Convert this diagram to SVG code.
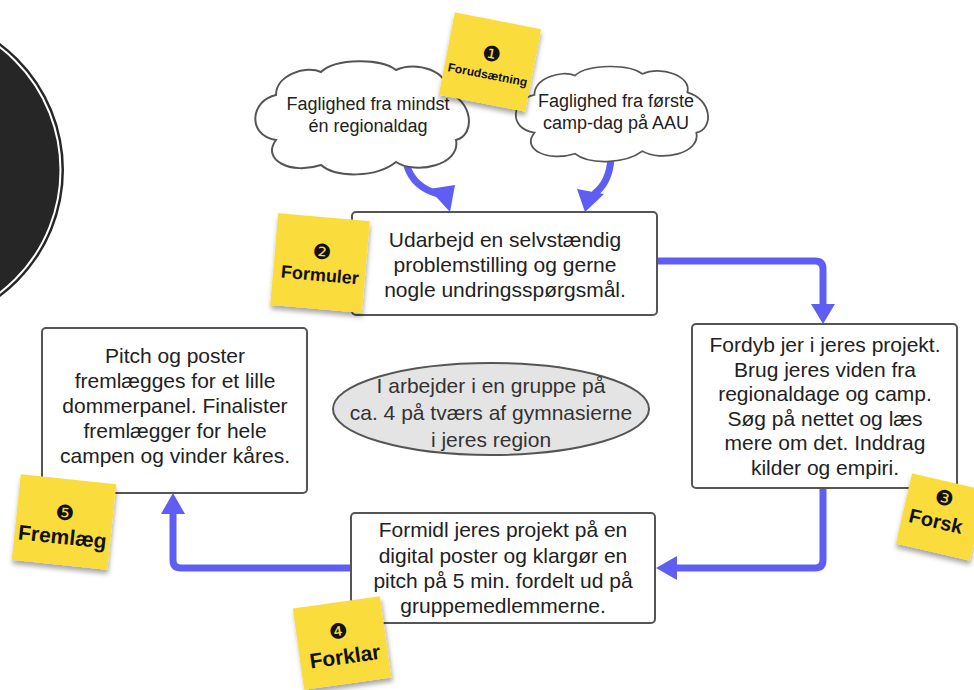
<svg xmlns="http://www.w3.org/2000/svg" width="974" height="690" viewBox="0 0 974 690">
<style>
.box{fill:#fff;stroke:#555;stroke-width:2}
.t{font-family:"Liberation Sans",Arial,sans-serif;font-size:21px;fill:#222;text-anchor:middle}
.ct{font-family:"Liberation Sans",Arial,sans-serif;font-size:18px;fill:#222;text-anchor:middle}
.et{font-family:"Liberation Sans",Arial,sans-serif;font-size:21px;fill:#333;text-anchor:middle}
.note{fill:#fadc3e}
.nt{font-family:"Liberation Sans",Arial,sans-serif;font-weight:bold;fill:#111;text-anchor:middle}
.num{font-family:"DejaVu Sans",sans-serif;fill:#111;text-anchor:middle}
.line{fill:none;stroke:#5e5ef5;stroke-width:7}
.head{fill:#5e5ef5}
.cloud{fill:#fff;stroke:#555;stroke-width:2}
</style>
<defs>
<filter id="sh" x="-20%" y="-20%" width="140%" height="150%">
<feDropShadow dx="1" dy="4" stdDeviation="2.5" flood-color="#000" flood-opacity="0.35"/>
</filter>
<path id="cloudp" d="M26,32 C26,12 56,2 71,9 C86,-5 131,-5 146,7 C166,-3 201,9 196,29 C223,37 226,72 206,77 C211,102 166,112 146,99 C126,115 86,115 71,102 C41,112 11,97 26,77 C-4,72 1,37 26,32 Z"/>
</defs>

<g id="badge">
<circle cx="-94" cy="170" r="158" fill="#262626"/>
<circle cx="-94" cy="170" r="154.5" fill="none" stroke="#fff" stroke-width="2"/>
</g>

<g id="connectors">
<path class="line" d="M407,166 C412,182 424,190 438,194" stroke-width="8"/>
<polygon class="head" points="429,189 455,185 450,212"/>
<path class="line" d="M611,158 C610,175 605,186 594,194" stroke-width="8"/>
<polygon class="head" points="577,189 604,194 585,212"/>
<path class="line" d="M657,261 H815 Q823,261 823,269 V306"/>
<polygon class="head" points="811,304 835,304 823,324"/>
<path class="line" d="M823,488 V560 Q823,568 815,568 H676"/>
<polygon class="head" points="677,556 677,580 656,568"/>
<path class="line" d="M351,568 H181 Q173,568 173,560 V512"/>
<polygon class="head" points="161,514 185,514 173,493"/>
</g>

<g id="cloud1">
<use href="#cloudp" class="cloud" transform="translate(250,63)"/>
<text class="ct" x="368" y="110">Faglighed fra mindst</text>
<text class="ct" x="368" y="132">én regionaldag</text>
</g>

<g id="cloud2">
<use href="#cloudp" class="cloud" vector-effect="non-scaling-stroke" transform="translate(511,68) scale(0.9,0.84)"/>
<text class="ct" x="616" y="107">Faglighed fra første</text>
<text class="ct" x="616" y="129">camp-dag på AAU</text>
</g>

<g id="step2">
<rect class="box" x="352" y="212" width="305" height="103" rx="4"/>
<text class="t" x="505" y="247">Udarbejd en selvstændig</text>
<text class="t" x="505" y="272">problemstilling og gerne</text>
<text class="t" x="505" y="297">nogle undringsspørgsmål.</text>
</g>

<g id="step3">
<rect class="box" x="692" y="324" width="265" height="164" rx="4"/>
<text class="t" x="825" y="352">Fordyb jer i jeres projekt.</text>
<text class="t" x="825" y="376.5">Brug jeres viden fra</text>
<text class="t" x="825" y="401">regionaldage og camp.</text>
<text class="t" x="825" y="425.5">Søg på nettet og læs</text>
<text class="t" x="825" y="450">mere om det. Inddrag</text>
<text class="t" x="825" y="474.5">kilder og empiri.</text>
</g>

<g id="step4">
<rect class="box" x="351" y="513" width="304" height="110" rx="4"/>
<text class="t" x="503" y="537">Formidl jeres projekt på en</text>
<text class="t" x="503" y="562.5">digital poster og klargør en</text>
<text class="t" x="503" y="588">pitch på 5 min. fordelt ud på</text>
<text class="t" x="503" y="613">gruppemedlemmerne.</text>
</g>

<g id="step5">
<rect class="box" x="42" y="328" width="265" height="165" rx="4"/>
<text class="t" x="175" y="363">Pitch og poster</text>
<text class="t" x="175" y="388">fremlægges for et lille</text>
<text class="t" x="175" y="413">dommerpanel. Finalister</text>
<text class="t" x="175" y="438">fremlægger for hele</text>
<text class="t" x="175" y="463">campen og vinder kåres.</text>
</g>

<g id="group-note">
<ellipse cx="491" cy="409" rx="158" ry="46" fill="#e4e4e4" stroke="#555" stroke-width="2"/>
<text class="et" x="491" y="393">I arbejder i en gruppe på</text>
<text class="et" x="491" y="420">ca. 4 på tværs af gymnasierne</text>
<text class="et" x="491" y="447">i jeres region</text>
</g>

<g id="sticky1" transform="translate(490,62) rotate(11)">
<rect class="note" x="-44" y="-42" width="88" height="84" filter="url(#sh)"/>
<text class="num" x="0" y="-1" font-size="21">❶</text>
<text class="nt" x="0" y="17" font-size="12">Forudsætning</text>
</g>

<g id="sticky2" transform="translate(320,263) rotate(5)">
<rect class="note" x="-46" y="-46" width="92" height="92" filter="url(#sh)"/>
<text class="num" x="1" y="-4" font-size="21">❷</text>
<text class="nt" x="1" y="18" font-size="18">Formuler</text>
</g>

<g id="sticky3" transform="translate(941,517) rotate(13)">
<rect class="note" x="-38" y="-36" width="76" height="72" filter="url(#sh)"/>
<text class="num" x="-1" y="-12" font-size="21">❸</text>
<text class="nt" x="-4" y="12" font-size="20">Forsk</text>
</g>

<g id="sticky4" transform="translate(342,643) rotate(-8)">
<rect class="note" x="-44" y="-41" width="88" height="82" filter="url(#sh)"/>
<text class="num" x="-2" y="-5" font-size="21">❹</text>
<text class="nt" x="1" y="21" font-size="21">Forklar</text>
</g>

<g id="sticky5" transform="translate(64,522) rotate(6)">
<rect class="note" x="-48" y="-43" width="96" height="86" filter="url(#sh)"/>
<text class="num" x="0" y="-2" font-size="21">❺</text>
<text class="nt" x="0" y="22" font-size="21">Fremlæg</text>
</g>
</svg>
